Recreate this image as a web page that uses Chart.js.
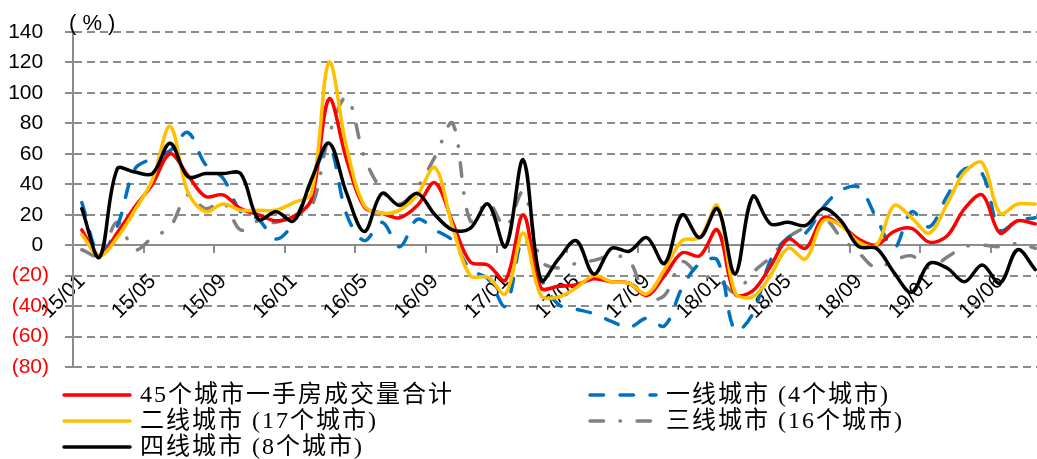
<!DOCTYPE html>
<html>
<head>
<meta charset="utf-8">
<script src="https://cdn.jsdelivr.net/npm/chart.js@4.4.1/dist/chart.umd.min.js"></script>
<style>
html, body { margin: 0; padding: 0; background: #fff; overflow: hidden; }
canvas { display: block; }
</style>
</head>
<body>
<canvas id="turnover" width="1037" height="459"></canvas>
<script>
// months on the category axis (19/02 is missing in the source data)
var months = [
  '15/01','15/02','15/03','15/04','15/05','15/06','15/07','15/08','15/09','15/10','15/11','15/12',
  '16/01','16/02','16/03','16/04','16/05','16/06','16/07','16/08','16/09','16/10','16/11','16/12',
  '17/01','17/02','17/03','17/04','17/05','17/06','17/07','17/08','17/09','17/10','17/11','17/12',
  '18/01','18/02','18/03','18/04','18/05','18/06','18/07','18/08','18/09','18/10','18/11','18/12',
  '19/01','19/03','19/04','19/05','19/06','19/07','19/08'
];

var seriesNames = [
  '45个城市一手房成交量合计',
  '一线城市 (4个城市)',
  '二线城市 (17个城市)',
  '三线城市 (16个城市)',
  '四线城市 (8个城市)'
];

// yoy change, %
var city45 = [10, -7, 8, 25, 40, 60, 46, 32, 33, 24, 20, 16,
  19, 30, 96, 56, 25, 21, 18, 26, 41, 15, -11, -13,
  -23, 20, -28, -27, -26, -22, -24, -25, -33, -20, -5, -7,
  10, -32, -30, -14, 4, -2, 18, 13, 4, 0, 9, 11,
  2, 6, 24, 33, 8, 16, 14];
var tier1 = [28, -6, 12, 50, 57, 62, 74, 53, 44, 22, 17, 4,
  15, 42, 65, 20, 3, 15, -1, 17, 10, 3, -16, -22,
  -40, 4, -22, -39, -42, -45, -50, -54, -48, -53, -28, -12,
  -10, -56, -45, -10, 5, 8, 25, 36, 38, 18, -2, 22,
  12, 32, 50, 47, 10, 16, 18];
var tier2 = [7, -7, 5, 23, 43, 78, 35, 22, 27, 23, 23, 23,
  28, 34, 120, 64, 26, 21, 23, 33, 51, 12, -20, -21,
  -32, 8, -33, -34, -28, -20, -24, -25, -32, -16, 3, 5,
  26, -31, -34, -20, -2, -9, 16, 13, 2, 0, 26, 18,
  8, 27, 48, 54, 21, 27, 27];
var tier3 = [-3, -7, 15, -3, 5, 12, 33, 24, 28, 10, 16, 15,
  20, 25, 72, 97, 58, 36, 27, 38, 58, 80, 16, 28,
  12, 35, -10, -15, -12, -10, -7, -10, -35, -33, -11, -20,
  -22, -31, -18, -8, 5, 12, 18, 5, -5, -15, -10, -7,
  -15, -8, -1, 0, -1, 1, -2];
var tier4 = [24, -8, 50, 48, 47, 67, 45, 47, 47, 47, 17, 22,
  16, 43, 67, 34, 9, 34, 26, 34, 20, 10, 11, 27,
  -1, 56, -23, -9, 3, -19, -2, -4, 5, -12, 20, 5,
  24, -19, 32, 14, 15, 13, 24, 16, -1, -2, -18, -31,
  -12, -15, -24, -13, -25, -3, -16];

var yMin = -80, yMax = 140, yStep = 20;
var labelEvery = 4;

var GRID = '#8c8c8c';

function makeLine(label, data, color, width, dash, order) {
  return {
    label: label,
    data: data,
    borderColor: color,
    backgroundColor: color,
    borderWidth: width,
    borderDash: dash,
    borderCapStyle: 'round',
    borderJoinStyle: 'round',
    pointRadius: 0,
    tension: 0.35,
    fill: false,
    order: order
  };
}

// legend drawn in two columns like the original, plus the unit label
var sideLegend = {
  id: 'sideLegend',
  afterDraw: function(chart) {
    var ctx = chart.ctx;
    ctx.save();
    ctx.fillStyle = '#000';
    ctx.font = '22px "Liberation Sans", "Noto Sans CJK SC"';
    ctx.textBaseline = 'alphabetic';
    ctx.fillText('( % )', 69, 30);

    var slots = [[62, 395], [588, 395], [62, 421], [588, 421], [62, 447]];
    chart.data.datasets.forEach(function(ds, i) {
      var x = slots[i][0], y = slots[i][1];
      ctx.beginPath();
      ctx.setLineDash(ds.borderDash || []);
      ctx.lineCap = 'round';
      ctx.lineWidth = ds.borderWidth;
      ctx.strokeStyle = ds.borderColor;
      ctx.moveTo(x + 2, y);
      ctx.lineTo(x + 68, y);
      ctx.stroke();
      ctx.setLineDash([]);
      ctx.font = '24px "Liberation Serif", "Noto Sans CJK SC"';
      ctx.letterSpacing = '2px';
      ctx.textBaseline = 'middle';
      ctx.fillText(ds.label, x + 78, y + 1);
      ctx.letterSpacing = '0px';
    });
    ctx.restore();
  }
};

var ctx = document.getElementById('turnover');
var chart = new Chart(ctx, {
  type: 'line',
  data: {
    labels: months.map(function(m, i) { return i; }),
    datasets: [
      makeLine(seriesNames[0], city45, '#FF0000', 3.5, [], 2),
      makeLine(seriesNames[1], tier1, '#0070C0', 3.5, [13.5, 16.5], 3),
      makeLine(seriesNames[2], tier2, '#FFC000', 3.5, [], 1),
      makeLine(seriesNames[3], tier3, '#808080', 3.5, [13.5, 16.5, 0.5, 16.5], 4),
      makeLine(seriesNames[4], tier4, '#000000', 3.5, [], 0)
    ]
  },
  options: {
    responsive: false,
    animation: false,
    devicePixelRatio: 1,
    layout: { padding: { top: 32, bottom: 92, left: 0, right: 0 } },
    plugins: {
      legend: { display: false },
      tooltip: { enabled: false }
    },
    scales: {
      x: {
        type: 'linear',
        position: { y: 0 },
        min: -0.5,
        max: 54.1,
        afterBuildTicks: function(scale) {
          var t = [];
          for (var i = 0; i < months.length; i += labelEvery) t.push({ value: i - 0.5 });
          scale.ticks = t;
        },
        afterFit: function(scale) { scale.height = 0; },
        grid: { display: true, drawOnChartArea: false, drawTicks: true, tickLength: 7, color: GRID, lineWidth: 2 },
        border: { display: true, color: GRID, width: 2 },
        ticks: {
          autoSkip: false,
          minRotation: 45,
          maxRotation: 45,
          labelOffset: 9,
          padding: 17,
          color: '#000',
          font: { family: '"Liberation Sans", Arial, sans-serif', size: 21 },
          callback: function(v) { return months[Math.round(v + 0.5)]; }
        }
      },
      y: {
        min: yMin,
        max: yMax,
        afterFit: function(scale) { scale.width = 73; },
        grid: { color: GRID, lineWidth: 2, tickLength: 8, drawTicks: true },
        border: { display: true, color: GRID, width: 2, dash: [8, 5] },
        ticks: {
          stepSize: yStep,
          padding: 16,
          font: { family: '"Liberation Sans", Arial, sans-serif', size: 21 },
          color: function(c) { return c.tick && c.tick.value < 0 ? '#FF0000' : '#000000'; },
          callback: function(v) { return v < 0 ? '(' + (-v) + ')' : v + ' '; }
        }
      }
    }
  },
  plugins: [sideLegend]
});
</script>
</body>
</html>
